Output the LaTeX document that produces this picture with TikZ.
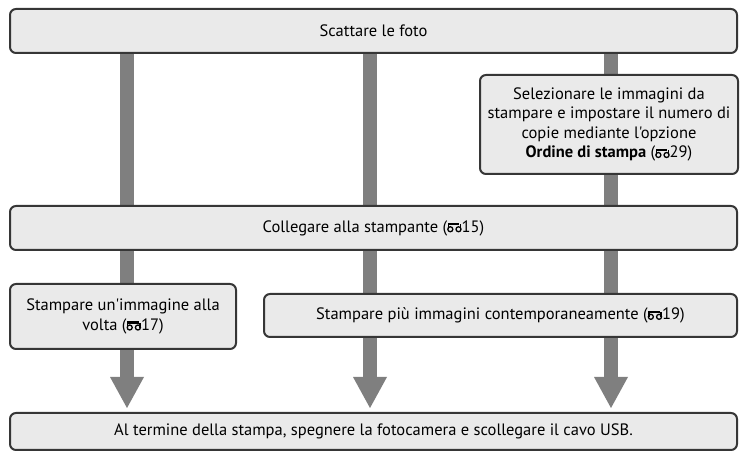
\documentclass[tikz,border=0pt]{standalone}
\usepackage{fontspec}
\setmainfont{PT Sans}[Ligatures=TeXOff]
\usepackage{tikz}
\usetikzlibrary{arrows.meta,backgrounds}
\usepackage{xcolor}
\definecolor{boxfill}{HTML}{EAEAEA}
\definecolor{boxline}{HTML}{363636}
\definecolor{flowgray}{HTML}{7F7F7F}
\newcommand{\binoc}{\tikz[baseline=0pt,x=1pt,y=1pt,line width=1.3pt,sharp corners]{
    \draw (3.4,2.8) circle (2.5);
    \draw (11.6,2.8) circle (2.5);
    \fill (1.2,6.6) rectangle (12.4,9.0);
    \fill (0.75,2.8) rectangle (2.05,9.0);
    \fill (12.95,2.8) rectangle (14.25,7.6);}}
\tikzset{
  box/.style={
    draw=boxline,
    fill=boxfill,
    line width=2pt,
    rounded corners=6pt,
    inner sep=0pt,
    align=center,
    font=\fontsize{16.5}{19.5}\selectfont,
  },
  flow/.style={
    draw=flowgray,
    line width=14pt,
    -{Triangle[length=31pt,width=34pt,line width=0pt]},
    shorten >=4pt,
  },
}
\begin{document}
\begin{tikzpicture}[x=1pt,y=-1pt]
  \useasboundingbox (0,0) rectangle (740,457);
  % boxes
  \node[box, minimum width=727pt, minimum height=44pt] (scatta) at (373.5,31) {Scattare le foto};
  \node[box, minimum width=258pt, minimum height=99pt] (selez) at (609,124.5)
    {Selezionare le immagini da\\stampare e impostare il numero di\\copie mediante l'opzione\\\textbf{Ordine di stampa} (\binoc29)};
  \node[box, minimum width=727pt, minimum height=44pt] (colleg) at (373.5,228) {Collegare alla stampante (\binoc15)};
  \node[box, minimum width=226pt, minimum height=65pt] (singola) at (123,316.5)
    {Stampare un'immagine alla\\volta (\binoc17)};
  \node[box, minimum width=473pt, minimum height=43pt] (multi) at (500.5,315.5)
    {Stampare più immagini contemporaneamente (\binoc19)};
  \node[box, minimum width=727pt, minimum height=37pt] (fine) at (373.5,431.5)
    {Al termine della stampa, spegnere la fotocamera e scollegare il cavo USB.};
  % columns of the flow
  \coordinate (c1) at (127,0);
  \coordinate (c2) at (370,0);
  \coordinate (c3) at (611,0);
  \begin{scope}[on background layer]
    \foreach \c in {c1,c2,c3}
      \draw[flow] (scatta.south -| \c) -- (fine.north -| \c);
  \end{scope}
\end{tikzpicture}
\end{document}
